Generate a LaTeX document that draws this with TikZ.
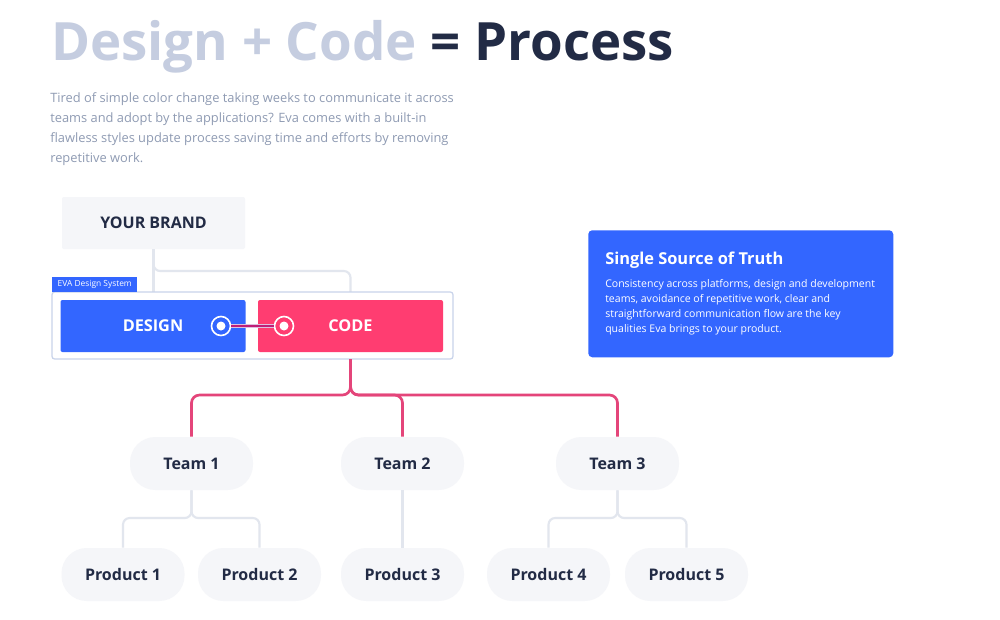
\documentclass[tikz,border=0pt]{standalone}
\usepackage{fontspec}
\setmainfont{Open Sans}
\definecolor{dark}{HTML}{222B45}
\definecolor{lighttitle}{HTML}{C5CDE0}
\definecolor{bodygray}{HTML}{8F9BB3}
\definecolor{evablue}{HTML}{3366FF}
\definecolor{evapink}{HTML}{FF3D71}
\definecolor{pinkline}{HTML}{E4457A}
\definecolor{grayline}{HTML}{E2E6EE}
\definecolor{boxgray}{HTML}{F5F6F9}
\definecolor{evaborder}{HTML}{C8D3EA}
\tikzset{
  brandbox/.style={fill=boxgray, rounded corners=1.5pt, minimum width=183*0.75pt, minimum height=52*0.75pt, font=\bfseries\fontsize{12}{14}\selectfont, text=dark},
  pill/.style={fill=boxgray, rounded corners=19pt, minimum width=123*0.75pt, minimum height=53*0.75pt, font=\bfseries\fontsize{12}{14}\selectfont, text=dark},
  colorbox/.style={rounded corners=1.5pt, minimum width=185*0.75pt, minimum height=52*0.75pt, font=\bfseries\fontsize{12.2}{14}\selectfont, text=white},
  ring/.style={circle, draw=white, line width=1.2pt, minimum size=19*0.75pt, inner sep=0pt},
  dot/.style={circle, fill=white, minimum size=9*0.75pt, inner sep=0pt},
  gline/.style={draw=grayline, line width=1.6pt, rounded corners=5pt},
  pline/.style={draw=pinkline, line width=2pt, rounded corners=6pt},
}
\begin{document}
\begin{tikzpicture}[x=0.75pt,y=-0.75pt]
\useasboundingbox[fill=white] (0,0) rectangle (1000,619);

% title
\node[anchor=base west, inner sep=0pt, font=\bfseries\fontsize{39.6}{44}\selectfont] (title) at (51,60)
  {\textcolor{lighttitle}{Design + Code} \textcolor{dark}{= Process}};
\node[anchor=north west, inner sep=0pt, text=bodygray, font=\fontsize{9.65}{15}\selectfont, align=left] (intro) at (50,92)
  {Tired of simple color change taking weeks to communicate it across\\
   teams and adopt by the applications? Eva comes with a built-in\\
   flawless styles update process saving time and efforts by removing\\
   repetitive work.};

% brand
\node[brandbox] (brand) at (153.5,223) {YOUR BRAND};

% EVA box frame positions
\coordinate (evaTL) at (52,292);
\coordinate (evaBR) at (453,359);
\node[colorbox, fill=evablue] (design) at (153,326) {DESIGN};
\node[colorbox, fill=evapink] (code) at (350.5,326) {CODE};

% connectors from brand
\draw[gline] (brand.south) -- (brand.south |- evaTL);
\draw[gline] (brand.south) |- (code.north |- 0,271) -- (code.north |- evaTL);

% EVA frame
\draw[draw=evaborder, fill=white, line width=0.9pt, rounded corners=2pt] (evaTL) rectangle (evaBR);
\node[fill=evablue, anchor=south west, minimum width=85*0.75pt, minimum height=15*0.75pt, inner sep=0pt, text=white, font=\fontsize{6.3}{7}\selectfont] (tab) at (evaTL) {EVA Design System};
\node[colorbox, fill=evablue] (design) at (153,326) {DESIGN};
\node[colorbox, fill=evapink] (code) at (350.5,326) {CODE};

% link circles
\node[ring] (dring) at (221,326) {};
\node[dot] (ddot) at (221,326) {};
\node[ring] (cring) at (284,326) {};
\node[dot] (cdot) at (284,326) {};
\draw[draw=white!75!violet, double=violet!50!evapink, double distance=0.9pt, line width=0.7pt] (dring.east) -- (cring.west);

% teams
\node[pill] (team1) at (191.5,463.5) {Team 1};
\node[pill] (team2) at (402.5,463.5) {Team 2};
\node[pill] (team3) at (617.5,463.5) {Team 3};
% products
\node[pill] (p1) at (123,574.5) {Product 1};
\node[pill] (p2) at (259.5,574.5) {Product 2};
\node[pill] (p3) at (402.5,574.5) {Product 3};
\node[pill] (p4) at (548.5,574.5) {Product 4};
\node[pill] (p5) at (686.5,574.5) {Product 5};

% pink connectors
\coordinate (codeout) at (code.south |- evaBR);
\coordinate (pj) at (350.5,395);
\draw[pline] (codeout) -- (pj) -| (team1.north);
\draw[pline] (codeout) -- (pj) -| (team2.north);
\draw[pline] (codeout) -- (pj) -| (team3.north);

% gray connectors
\coordinate (g1) at (191.5,518);
\coordinate (g3) at (617.5,518);
\draw[gline] (team1.south) -- (g1) -| (p1.north);
\draw[gline] (team1.south) -- (g1) -| (p2.north);
\draw[gline] (team2.south) -- (p3.north);
\draw[gline] (team3.south) -- (g3) -| (p4.north);
\draw[gline] (team3.south) -- (g3) -| (p5.north);

% info box
\node[fill=evablue, rounded corners=3pt, minimum width=305*0.75pt, minimum height=127*0.75pt, anchor=north west] (info) at (588,230) {};
\node[anchor=base west, inner sep=0pt, text=white, font=\bfseries\fontsize{12.3}{14}\selectfont] (infotitle) at (605,264) {Single Source of Truth};
\node[anchor=north west, inner sep=0pt, text=white, font=\fontsize{7.9}{11.2}\selectfont, align=left] (infotext) at (605,279)
  {Consistency across platforms, design and development\\
   teams, avoidance of repetitive work, clear and\\
   straightforward communication flow are the key\\
   qualities Eva brings to your product.};
\end{tikzpicture}
\end{document}
